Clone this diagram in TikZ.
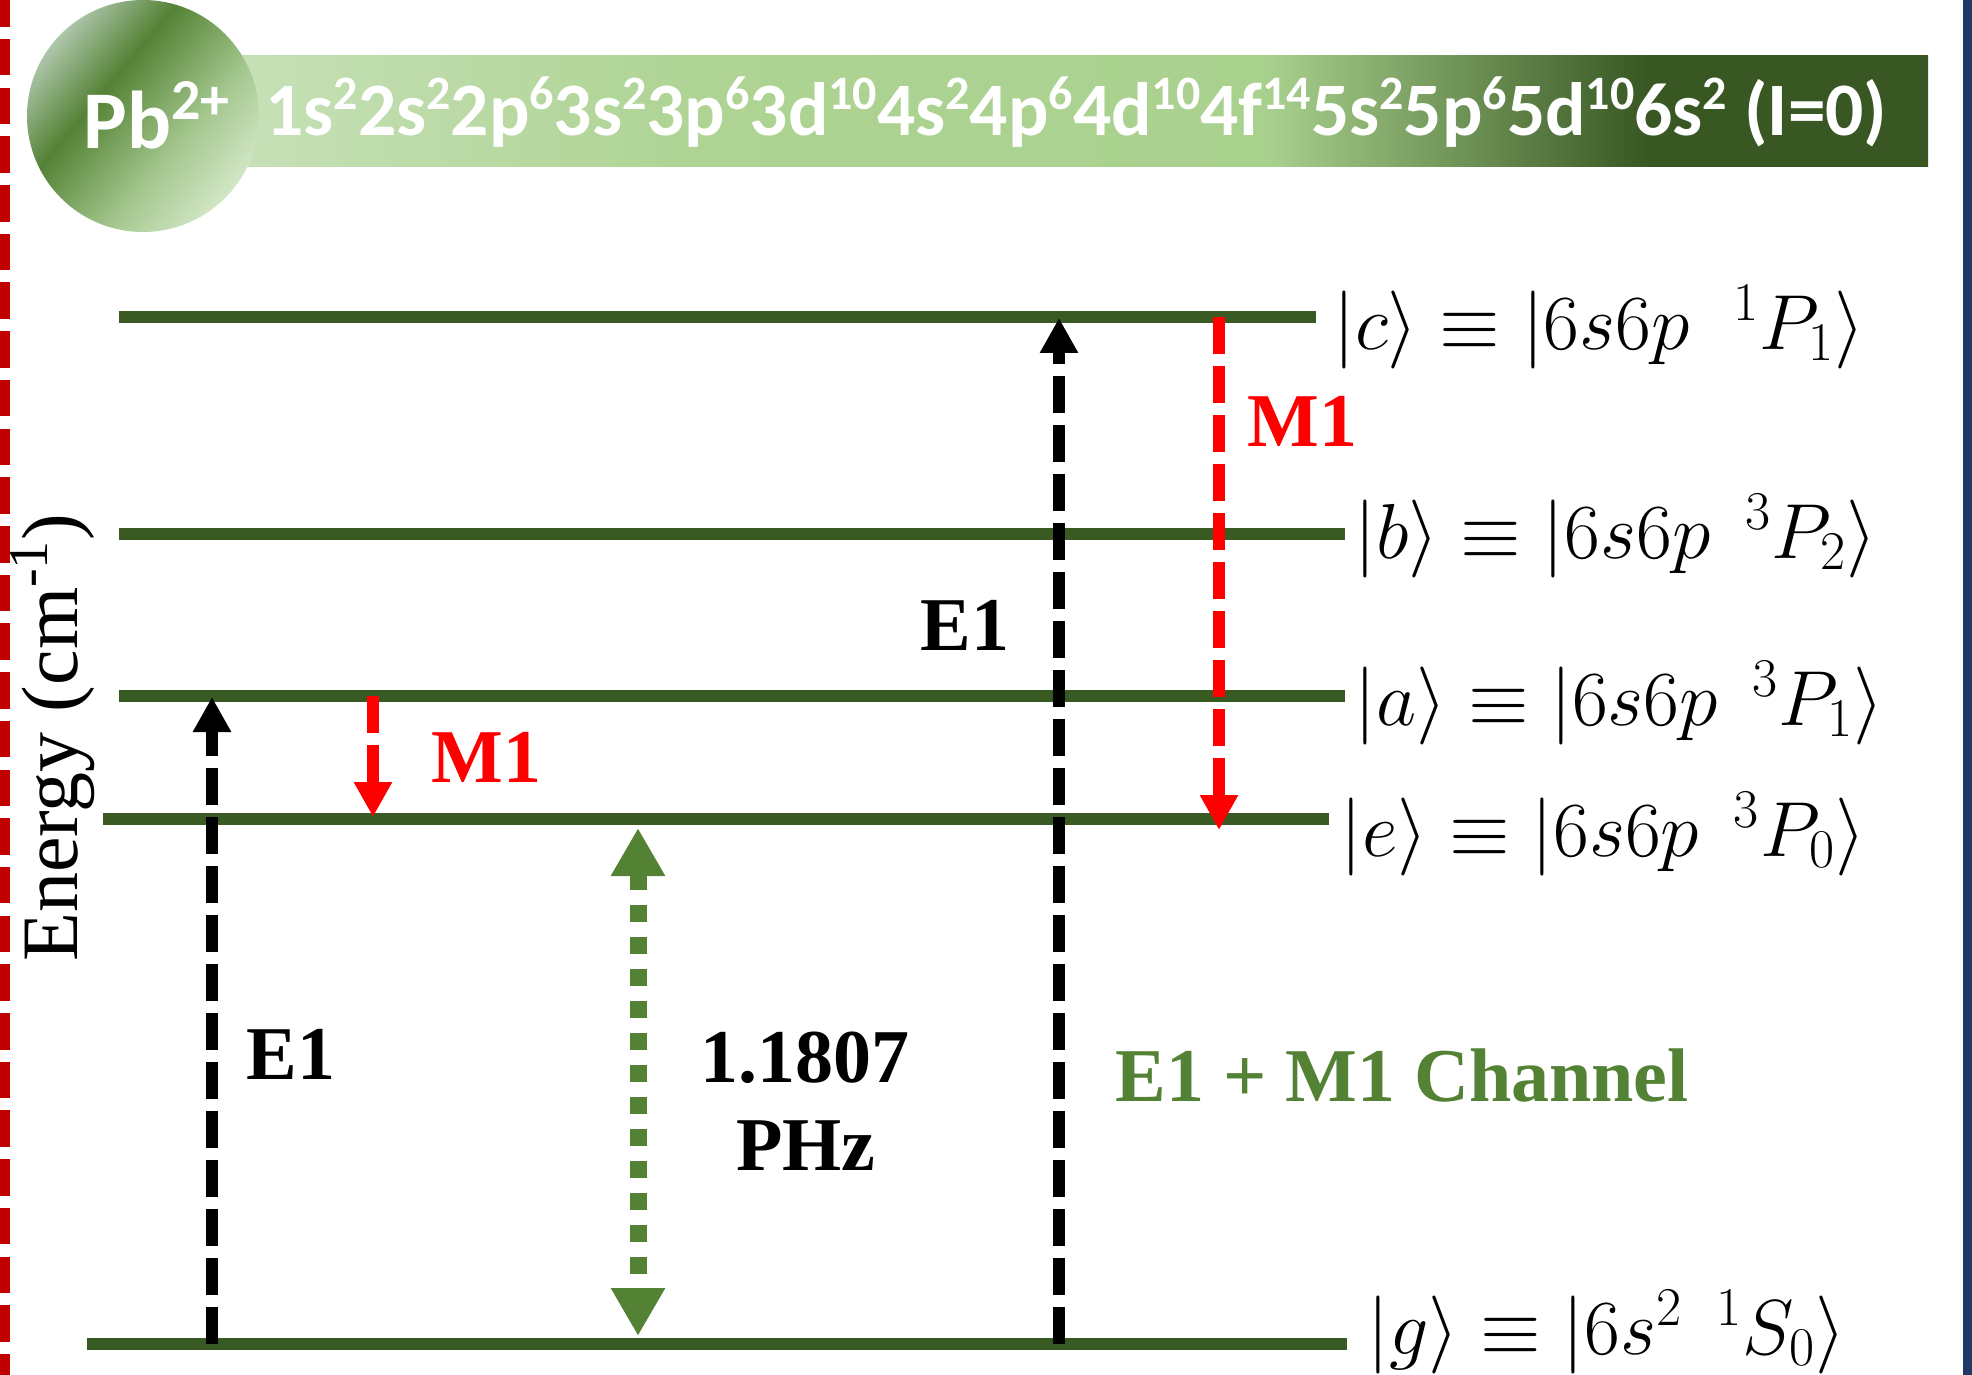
\RequirePackage{fix-cm}
\documentclass[tikz,border=0pt]{standalone}
\usepackage{fontspec}
\setmainfont{Liberation Serif}
\newfontfamily\hdrfont{Carlito}
\usetikzlibrary{arrows.meta}

\definecolor{levelgreen}{HTML}{3A5A24}
\definecolor{chgreen}{HTML}{548235}
\definecolor{mred}{HTML}{FF0000}
\definecolor{edgered}{HTML}{C00000}
\definecolor{edgeblue}{HTML}{203864}
\definecolor{bar0}{HTML}{C9E2BB}
\definecolor{bar1}{HTML}{AED393}
\definecolor{bar2}{HTML}{A9D18E}
\definecolor{bar3}{HTML}{385723}
\definecolor{ball0}{HTML}{AEC6AA}
\definecolor{ball1}{HTML}{548235}
\definecolor{ball2}{HTML}{A4C78E}
\definecolor{ball3}{HTML}{D2E7C6}

% header bar: light green fading into dark green on the right
\pgfdeclarehorizontalshading{barshade}{100bp}{color(0bp)=(bar0); color(25bp)=(bar0);
  color(40bp)=(bar1); color(56bp)=(bar2); color(67bp)=(bar3); color(75bp)=(bar3); color(100bp)=(bar3)}
% ion badge: diagonal sweep grey-green -> dark green -> pale green
\pgfdeclarehorizontalshading{ballshade}{100bp}{color(0bp)=(ball0); color(25bp)=(ball0);
  color(40bp)=(ball1); color(60bp)=(ball2); color(75bp)=(ball3); color(100bp)=(ball3)}

% superscripts in the header line
\newcommand{\hsup}[1]{\raisebox{13pt}{\fontsize{24pt}{24pt}\selectfont #1}}
\newcommand{\pbsup}[1]{\raisebox{14.5pt}{\fontsize{29pt}{29pt}\selectfont #1}}

\begin{document}
\begin{tikzpicture}[x=0.5pt,y=-0.5pt,
  level/.style={levelgreen, line width=6pt},
  eonearrow/.style={black, line width=6pt, dash pattern=on 18.5pt off 6pt,
    -{Triangle[width=18pt,length=17.5pt]}},
  monearrow/.style={mred, line width=6pt, dash pattern=on 18.5pt off 6pt,
    -{Triangle[width=18pt,length=17.5pt]}},
  freqarrow/.style={chgreen, line width=8.5pt, dash pattern=on 8.5pt off 7.5pt,
    {Triangle[width=25.5pt,length=24pt]}-{Triangle[width=25.5pt,length=24pt]}},
  boldlbl/.style={inner sep=0pt, font=\fontsize{38pt}{44pt}\selectfont\bfseries},
  statelbl/.style={inner sep=0pt, anchor=west, font=\fontsize{39pt}{42pt}\selectfont},
  hdr/.style={inner sep=0pt, anchor=base west, text=white}]

\useasboundingbox (0,0) rectangle (1972,1375);
\fill[white] (0,0) rectangle (1972,1375);

% frame edges
\draw[edgered, line width=5pt, dash pattern=on 18.25pt off 6.1pt] (5,-9.7) -- (5,1390);
\fill[edgeblue] (1963,0) rectangle (1972,1375);

% header
\shade[shading=barshade] (183,56) rectangle (1928,167);
\shade[shading=ballshade, shading angle=-40] (143,116) circle [radius=116];
\node[hdr, font=\hdrfont\bfseries\fontsize{41pt}{41pt}\selectfont] (ion) at (83,149) {Pb\pbsup{2+}};
\node[hdr, font=\hdrfont\bfseries\fontsize{37.75pt}{37.75pt}\selectfont] (config) at (265,136)
  {1s\hsup{2}2s\hsup{2}2p\hsup{6}3s\hsup{2}3p\hsup{6}3d\hsup{10}4s\hsup{2}4p\hsup{6}4d\hsup{10}4f\hsup{14}5s\hsup{2}5p\hsup{6}5d\hsup{10}6s\hsup{2} (I=0)};

% axis label
\node[rotate=90, anchor=base west, inner sep=0pt, font=\fontsize{40pt}{40pt}\selectfont] (ylabel)
  at (77,962) {Energy (cm\textsuperscript{-1})};

% energy levels
\draw[level] (119,317) -- (1316,317);
\draw[level] (119,534) -- (1345,534);
\draw[level] (119,696) -- (1345,696);
\draw[level] (103,819) -- (1329,819);
\draw[level] (87,1344) -- (1347,1344);

% level labels
\node[statelbl] (lc) at (1333,327) {$|c\rangle \equiv |6s6p\;\;{}^{1}P_{1}\rangle$};
\node[statelbl] (lb) at (1354,536) {$|b\rangle \equiv |6s6p\;\,{}^{3}P_{2}\rangle$};
\node[statelbl] (la) at (1354,703) {$|a\rangle \equiv |6s6p\;\,{}^{3}P_{1}\rangle$};
\node[statelbl] (le) at (1340,834) {$|e\rangle \equiv |6s6p\;\,{}^{3}P_{0}\rangle$};
\node[statelbl] (lg) at (1367,1332) {$|g\rangle \equiv |6s^{2}\;\,{}^{1}S_{0}\rangle$};

% transition end points on the levels
\coordinate (gA) at (212,1344);
\coordinate (aA) at (212,697);
\coordinate (aM) at (373,696);
\coordinate (eM) at (373,817);
\coordinate (eF) at (638,828);
\coordinate (gF) at (638,1336);
\coordinate (gC) at (1059,1344);
\coordinate (cC) at (1059,318);
\coordinate (cM) at (1219,317);
\coordinate (eM2) at (1219,830);

% transitions
\draw[eonearrow] (gA) -- (aA);
\draw[monearrow] (aM) -- (eM);
\draw[freqarrow] (eF) -- (gF);
\draw[eonearrow] (gC) -- (cC);
\draw[monearrow] (cM) -- (eM2);

% transition labels
\node[boldlbl, anchor=base west] (eoneL) at (246,1079) {E1};
\node[boldlbl, anchor=base west, text=mred] (moneL) at (431,782) {M1};
\node[boldlbl, anchor=base] (freqnum) at (805,1082) {1.1807};
\node[boldlbl, anchor=base] (frequnit) at (806,1170) {PHz};
\node[boldlbl, anchor=base west] (eoneC) at (920,650) {E1};
\node[boldlbl, anchor=base west, text=mred] (moneC) at (1247,446) {M1};
\node[boldlbl, anchor=base west, text=chgreen] (channel) at (1115,1101) {E1 + M1 Channel};

\end{tikzpicture}
\end{document}
